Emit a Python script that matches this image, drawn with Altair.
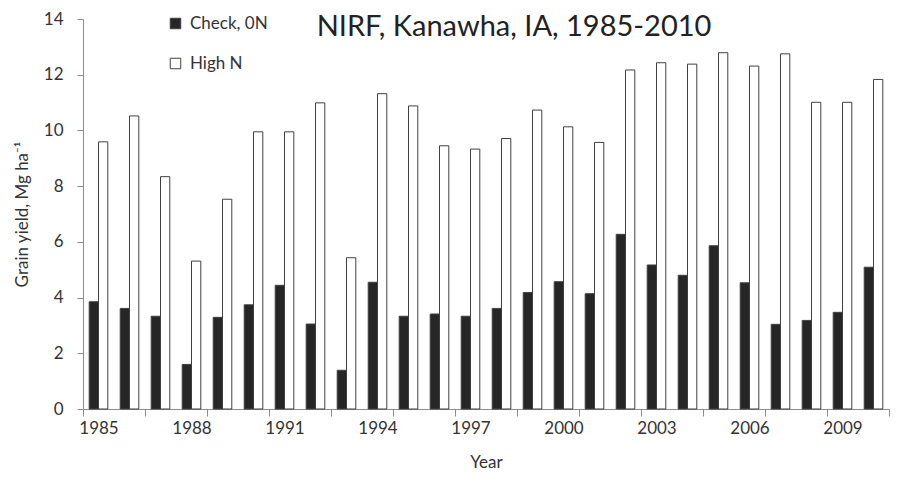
import altair as alt
import pandas as pd

years = list(range(1985, 2011))
check_0n = [3.85, 3.61, 3.33, 1.60, 3.29, 3.74, 4.44, 3.05, 1.39, 4.55, 3.33, 3.41, 3.33,
            3.61, 4.18, 4.57, 4.14, 6.27, 5.17, 4.80, 5.86, 4.53, 3.04, 3.18, 3.47, 5.09]
high_n = [9.59, 10.52, 8.34, 5.31, 7.53, 9.95, 9.95, 10.99, 5.43, 11.32, 10.88, 9.45, 9.33,
          9.71, 10.73, 10.13, 9.57, 12.17, 12.43, 12.38, 12.79, 12.31, 12.75, 11.01, 11.01, 11.83]
series_names = ["Check, 0N", "High N"]
label_years = list(range(1985, 2011, 3))
tick_bounds = [1984.5 + 2 * k for k in range(14)]
y_ticks = [0, 2, 4, 6, 8, 10, 12, 14]
title_text = "NIRF, Kanawha, IA, 1985-2010"

rows = []
for i, y in enumerate(years):
    rows.append({"year": y, "series": series_names[0], "value": check_0n[i], "idx": 0})
    rows.append({"year": y, "series": series_names[1], "value": high_n[i], "idx": 1})
df = pd.DataFrame(rows)

FONT = "Lato"
AXIS_GRAY = "#8c8c8c"
TEXT_GRAY = "#333333"

bars = alt.Chart(df).transform_calculate(
    x0="datum.year - 0.3 + 0.3 * datum.idx",
    x1="datum.year + 0.3 * datum.idx",
).mark_bar(stroke="#404040", strokeWidth=1).encode(
    x=alt.X(
        "x0:Q",
        scale=alt.Scale(domain=[1984.5, 2010.5], nice=False, zero=False),
        axis=alt.Axis(
            title="Year",
            values=sorted(label_years + tick_bounds),
            format="d",
            labelExpr="datum.value % 1 == 0 ? datum.label : ''",
            tickOpacity={"expr": "datum.value % 1 == 0 ? 0 : 1"},
            labelOverlap=False,
            labelFlush=False,
            tickSize=7,
            labelPadding=4,
            titlePadding=18,
            grid=False,
        ),
    ),
    x2="x1:Q",
    y=alt.Y(
        "value:Q",
        scale=alt.Scale(domain=[0, 14], nice=False),
        axis=alt.Axis(
            title="Grain yield, Mg ha⁻¹",
            values=y_ticks,
            tickSize=6,
            labelPadding=14,
            titlePadding=12,
            grid=False,
        ),
    ),
    y2=alt.datum(0),
    fill=alt.Fill(
        "series:N",
        scale=alt.Scale(domain=series_names, range=["#262626", "#ffffff"]),
        legend=alt.Legend(
            title=None,
            orient="none",
            legendX=84,
            legendY=-4,
            symbolType="square",
            symbolSize=110,
            symbolStrokeColor="#404040",
            symbolStrokeWidth=1,
            labelFontSize=17,
            labelFont=FONT,
            labelColor=TEXT_GRAY,
            labelOffset=6,
            rowPadding=22,
            padding=0,
        ),
    ),
)

title = alt.Chart(pd.DataFrame({"t": [title_text]})).mark_text(
    font=FONT, fontSize=29, color="#222222", align="center", baseline="alphabetic"
).encode(
    text="t:N",
    x=alt.value(431),
    y=alt.value(17),
)

chart = alt.layer(bars, title).properties(
    width=806,
    height=390,
    padding={"left": 5, "right": 0, "top": 2, "bottom": 0},
).configure_view(stroke=None).configure_axis(
    domainColor=AXIS_GRAY,
    tickColor=AXIS_GRAY,
    labelFont=FONT,
    titleFont=FONT,
    labelFontSize=17,
    titleFontSize=17,
    labelColor=TEXT_GRAY,
    titleColor=TEXT_GRAY,
    titleFontWeight="normal",
)

chart.save("out.html", embed_options={"renderer": "svg", "actions": False})
